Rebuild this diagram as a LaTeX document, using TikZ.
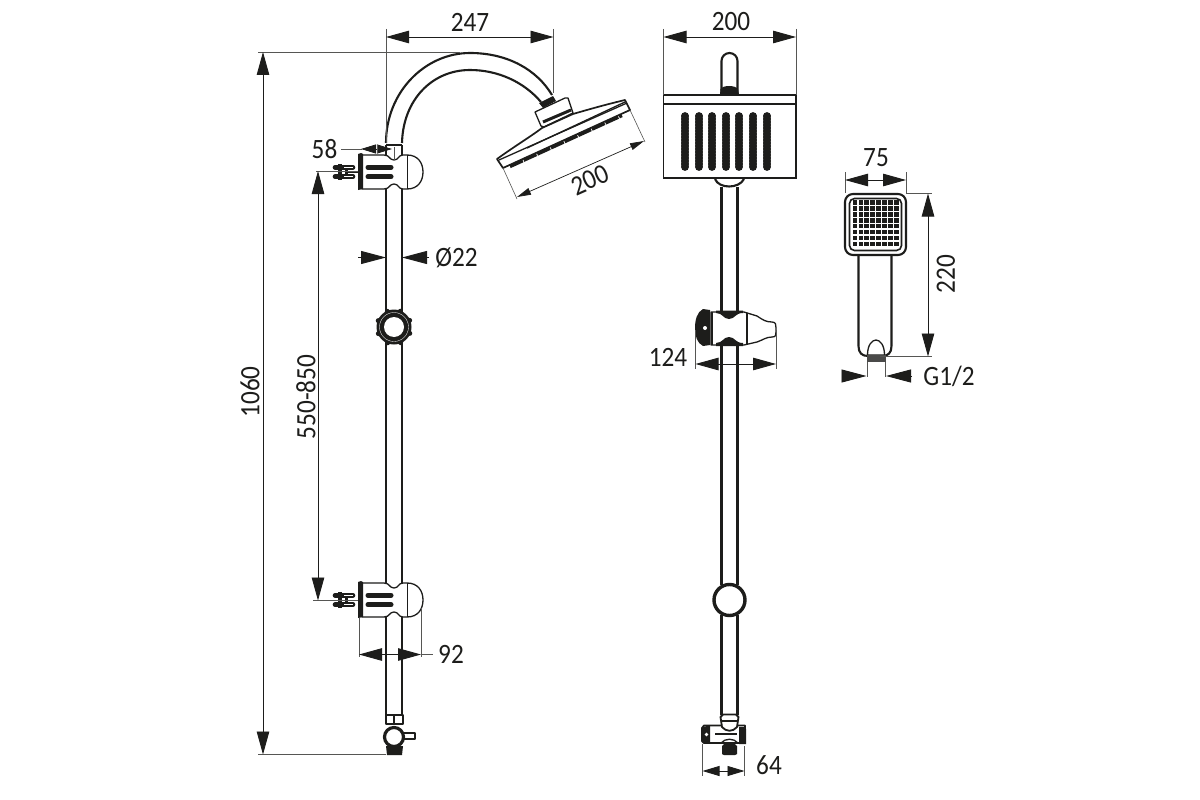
\documentclass[tikz,border=0pt]{standalone}
\usepackage{fontspec}
\setmainfont[FakeStretch=0.9]{Carlito}
\usetikzlibrary{arrows.meta}
\definecolor{ink}{HTML}{1D1D1B}
\tikzset{
  x=1pt,y=-1pt,
  pipe/.style={draw=ink,line width=2.1pt,line join=round},
  thin part/.style={draw=ink,line width=1.3pt,line join=round},
  ext/.style={draw=ink!75,line width=.6pt},
  dimen/.style={draw=ink,line width=.9pt,{Triangle[length=23pt,width=12.5pt]}-{Triangle[length=23pt,width=12.5pt]}},
  dimen small/.style={draw=ink,line width=.9pt,{Triangle[length=17pt,width=10pt]}-{Triangle[length=17pt,width=10pt]}},
  arrow in/.style={draw=ink,line width=.9pt,-{Triangle[length=25pt,width=13pt]}},
  dimtext/.style={text=ink,font=\fontsize{28}{28}\selectfont,inner sep=0pt},
}
% side clamp, drawn round its centre line
\newcommand{\sideclamp}[1]{
  \begin{scope}[shift={(0,#1)}]
    \draw[thin part,fill=white] (362,-17) -- (384,-17) .. controls (390,-17) and (389,-12) .. (394,-12) .. controls (399,-12) and (398,-17) .. (403,-17) -- (407,-17) .. controls (418,-17) and (423,-9) .. (423,0) .. controls (423,9) and (418,17) .. (407,17) -- (403,17) .. controls (398,17) and (399,12) .. (394,12) .. controls (389,12) and (390,17) .. (384,17) -- (362,17) -- cycle;
    \draw[thin part] (407.5,-17) -- (407.5,17);
    \fill[ink] (358,-18) -- (361,-19) -- (363,-18) -- (363,17) -- (358,18) -- cycle;
    \draw[draw=ink,line width=5pt,line cap=round] (368,-4.8) -- (391,-4.8) (368,4.8) -- (391,4.8);
    \draw[draw=ink,line width=4.6pt,line cap=round] (335,-4.6) -- (353,-4.6) (335,4.6) -- (353,4.6);
    \fill[ink] (338,-8) rectangle (342,8);
    \fill[ink] (345,-7) rectangle (348,7);
    \draw[white,line width=.6pt] (344,-4.6) -- (353,-4.6) (344,4.6) -- (353,4.6);
    \draw[draw=ink,line width=.9pt] (348,0) -- (358,0);
  \end{scope}
}
\begin{document}
\begin{tikzpicture}
\useasboundingbox (0,0) rectangle (1200,800);
\fill[white] (0,0) rectangle (1200,800);

% ------- left (side) view
\draw[pipe] (386,143) .. controls (386,92) and (425,53) .. (470,53) .. controls (508,53) and (537,70) .. (552,95);
\draw[pipe] (402,143) .. controls (403,100) and (432,70) .. (470,70) .. controls (498,70) and (524,82) .. (541,102);
\draw[thin part] (386,145) -- (402,145);
\draw[pipe] (386,145) -- (386,158) (402,145) -- (402,158);
\draw[pipe] (386,188) -- (386,716) (402,188) -- (402,716);
\sideclamp{172}
\sideclamp{600}
\draw[ext] (394,147) -- (394,160);

% shower head, side view
\fill[ink] (539,103) -- (553,96) -- (556,101) -- (543,108) -- cycle;
\draw[thin part,fill=white] (535,112) -- (565,98) -- (568,98) -- (573,113) -- (544,127) -- (541,126) -- cycle;
\draw[draw=ink,line width=3pt] (543,122) -- (571,110);
\draw[draw=ink,line width=1.7pt,fill=white,line join=round] (497,159) .. controls (515,146) and (530,137) .. (542,128) -- (573,114) .. controls (590,109) and (608,104) .. (625,100) -- (630,110) -- (503,168) -- cycle;
\draw[thin part] (499,160) -- (627,103);
\draw[thin part] (527,148) -- (625,102);
\draw[draw=ink,line width=3.4pt,dash pattern=on 14pt off 1pt] (510,166.5) -- (622,115.5);

% nut on side rail
\fill[ink] (394,327) circle (17.5);
\foreach \a in {22,67,...,337} {\fill[ink] (394,327) ++(\a:17) circle (2.5);}
\fill[white] (394,327) circle (10);
\draw[white,line width=.3pt] (394,327) circle (14.5);

% lower end, side view
\draw[thin part,fill=white] (386,715) rectangle (394,724);
\draw[thin part,fill=white] (394,715) rectangle (403,724);
\draw[thin part,fill=white] (403,733) rectangle (415,739);
\fill[ink] (386,746) -- (403,746) -- (402,755) -- (387,755) -- cycle;
\draw[draw=ink,line width=3.2pt,fill=white] (394,737) circle (9.5);

% ------- middle (front) view
\draw[pipe] (721.5,95) -- (721.5,61) arc[start angle=180,end angle=360,radius=8] -- (737.5,95);
\fill[ink] (720,95) -- (720.5,89) .. controls (723,85) and (735,85) .. (738,89) -- (739,95) -- cycle;
\draw[pipe] (715,179) .. controls (719,189) and (739,189) .. (744,179);
\draw[pipe] (721.5,187) -- (721.5,311) (737.5,187) -- (737.5,311);
\draw[pipe] (721.5,345) -- (721.5,585) (737.5,345) -- (737.5,585);
\draw[pipe] (721.5,615) -- (721.5,715) (737.5,615) -- (737.5,715);
\draw[draw=ink,line width=1.9pt,fill=white] (663.5,95) rectangle (796,178);
\draw[thin part] (663.5,104) -- (796,104);
\foreach \x in {685,699,712,726,739,753,767} {
  \fill[ink,rounded corners=2.5pt] (\x-3.6,113) rectangle (\x+3.6,169);
  \foreach \y in {116,119,...,167} {\fill[ink] (\x,\y) circle (3.9);}
}

% middle clamp, front view
\draw[thin part,fill=white] (711,312) -- (744,312) -- (757,316) .. controls (763,320) and (766,322) .. (772,322) .. controls (776,322) and (776,325) .. (776,328) -- (776,332) .. controls (776,335) and (776,337) .. (772,337) .. controls (766,337) and (763,340) .. (757,342) -- (744,345) -- (711,345) -- cycle;
\fill[ink] (710,310) -- (703,309) .. controls (697,312) and (695,320) .. (695,328) .. controls (695,336) and (697,343) .. (703,346) -- (710,345) -- cycle;
\fill[white] (705,328) circle (2);
\draw[thin part] (712,312) -- (712,345) (747,313) -- (747,344);
\fill[ink] (716,310.5) -- (743,310.5) -- (743,313) .. controls (735,313) and (735,319) .. (729,319) .. controls (723,319) and (723,313) .. (716,313) -- cycle;
\fill[ink] (716,346) -- (743,346) -- (743,343) .. controls (735,343) and (735,337) .. (729,337) .. controls (723,337) and (723,343) .. (716,343) -- cycle;

% lower ring, front view
\draw[draw=ink,line width=3.4pt,fill=white] (729.5,600) circle (15.5);

% valve, front view
\draw[draw=ink,line width=1.8pt,fill=white,line join=round] (702,728) -- (704,725.5) -- (745,725.5) -- (745,743) -- (704,743) -- (702,741) -- cycle;
\fill[ink] (739,727) -- (745,727) -- (746,729) -- (746,744) -- (739,744) -- cycle;
\fill[ink] (702,727) -- (710,725.5) -- (710,743) -- (702,742) -- cycle;
\fill[white] (706.5,734.5) circle (1.9);
\draw[draw=ink,line width=1.8pt,fill=white,line join=round] (722,727) -- (720.5,717) -- (723,714.5) -- (736,714.5) -- (738.5,717) -- (737,727) .. controls (733,732) and (726,732) .. (722,727) -- cycle;
\draw[thin part] (721,721) -- (738,721);
\draw[thin part] (715,734) -- (737,734);
\fill[ink] (722,754) -- (722,746) .. controls (725,741) and (734,741) .. (737,746) -- (737,754) -- (735,755) -- (724,755) -- cycle;
\draw[thin part] (721,743) .. controls (725,738) and (734,738) .. (738,743);

% ------- hand shower
\draw[draw=ink,line width=2.1pt,fill=white] (858.5,254) -- (858.5,346) .. controls (858.5,353) and (862,356) .. (868,356) -- (882,356) .. controls (888,356) and (891.5,353) .. (891.5,346) -- (891.5,254);
\draw[draw=ink,line width=2.1pt,fill=white,rounded corners=8pt] (845,194) rectangle (906,255);
\draw[draw=ink,line width=1.6pt,fill=white,rounded corners=5pt] (849.5,198.5) rectangle (901.5,250.5);
\foreach \i in {0,...,7} {\foreach \j in {0,...,7} {
  \fill[ink] (852.6+5.9*\i,200.2+5.9*\j) rectangle (857.2+5.9*\i,204.8+5.9*\j);
}}
\draw[thin part,fill=white] (867.5,355) .. controls (867.5,345) and (872,340) .. (876,340) .. controls (880,340) and (884.5,345) .. (884.5,355) -- cycle;
\fill[ink!80] (866.5,355) rectangle (886,362);
\draw[ext] (867,362) -- (867,377) (885.5,362) -- (885.5,377);

% ------- dimensions
\coordinate (top247L) at (386,37); \coordinate (top247R) at (553.5,37);
\draw[ext] (386,29) -- (386,143) (553.5,29) -- (553.5,93);
\draw[dimen] (top247L) -- (top247R);
\node[dimtext] (t247) at (470,22) {247};

\draw[ext] (258,52) -- (460,52) (258,754.5) -- (386,754.5);
\coordinate (h1) at (263,52); \coordinate (h2) at (263,754.5);
\draw[dimen] (h1) -- (h2);
\node[dimtext,rotate=90] (t1060) at (250,392) {1060};

\draw[ext] (316,171) -- (358,171) (313,600.5) -- (358,600.5);
\coordinate (r1) at (318,171); \coordinate (r2) at (318,600.5);
\draw[dimen] (r1) -- (r2);
\node[dimtext,rotate=90] (t550) at (306,397) {550-850};

\node[dimtext] (t58) at (324.5,149) {58};
\coordinate (a58) at (341,149); \coordinate (b58) at (377,149); \coordinate (c58) at (392,149);
\draw[ext] (a58) -- (362,149);
\draw[draw=ink,line width=.8pt,{Triangle[length=15pt,width=9pt]}-{Triangle[length=15pt,width=9pt]}] (361,149) -- (392,149);
\draw[ext] (377,145) -- (377,153);

\coordinate (d1) at (358,257.5); \coordinate (d2) at (386,257.5);
\coordinate (d3) at (429,257.5); \coordinate (d4) at (402,257.5);
\draw[arrow in] (d1) -- (d2);
\draw[arrow in] (d3) -- (d4);
\node[dimtext] (tphi) at (456.5,258) {Ø22};

\draw[ext] (359,618) -- (359,657) (421,608) -- (421,657);
\coordinate (n1) at (359,654.5); \coordinate (n2) at (421,654.5);
\draw[dimen] (n1) -- (n2);
\draw[ext] (421,654.5) -- (433,654.5);
\node[dimtext] (t92) at (451,654) {92};

\coordinate (s1) at (503,168); \coordinate (s2) at (517,199);
\coordinate (s3) at (630,110); \coordinate (s4) at (645,142);
\draw[ext] (s1) -- (s2) (s3) -- (s4);
\draw[draw=ink,line width=.7pt,{Triangle[length=14pt,width=7pt]}-{Triangle[length=14pt,width=7pt]}] (517,197) -- (644,141);
\node[dimtext,rotate=24] (t200a) at (590,180) {200};

\draw[ext] (663.5,29) -- (663.5,95) (796,29) -- (796,95);
\coordinate (w1) at (663.5,37); \coordinate (w2) at (796,37);
\draw[dimen] (w1) -- (w2);
\node[dimtext] (t200b) at (731,22) {200};

\draw[ext] (695.5,330) -- (695.5,369) (776,330) -- (776,369);
\coordinate (m1) at (695.5,364); \coordinate (m2) at (776,364);
\draw[dimen] (m1) -- (m2);
\node[dimtext] (t124) at (668,357) {124};

\draw[ext] (702.5,744) -- (702.5,776) (744.5,746) -- (744.5,776);
\coordinate (v1) at (702.5,771); \coordinate (v2) at (744.5,771);
\draw[dimen small] (v1) -- (v2);
\node[dimtext] (t64) at (769,765) {64};

\draw[ext] (845,172) -- (845,193) (906,172) -- (906,193);
\coordinate (x1) at (845,180); \coordinate (x2) at (906,180);
\draw[dimen] (x1) -- (x2);
\node[dimtext] (t75) at (876,158) {75};

\draw[ext] (906,193.5) -- (932,193.5) (880,356.5) -- (932,356.5);
\coordinate (y1) at (928,193.5); \coordinate (y2) at (928,356.5);
\draw[dimen] (y1) -- (y2);
\node[dimtext,rotate=90] (t220) at (946,274) {220};

\coordinate (g1) at (842,376); \coordinate (g2) at (866.5,376);
\coordinate (g3) at (911,376); \coordinate (g4) at (886,376);
\draw[arrow in] (g1) -- (g2);
\draw[arrow in] (g3) -- (g4);
\node[dimtext] (tg) at (949,376) {G1/2};
\end{tikzpicture}
\end{document}
